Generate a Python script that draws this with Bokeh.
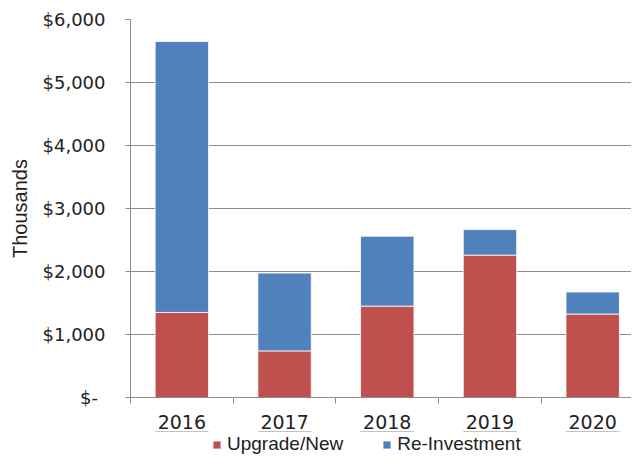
from bokeh.plotting import figure
from bokeh.layouts import column
from bokeh.models import (ColumnDataSource, Range1d, FixedTicker, Legend, LegendItem)
from bokeh.embed import file_html
from bokeh.resources import INLINE

years = ["2016", "2017", "2018", "2019", "2020"]
upgrade_new = [1350, 740, 1450, 2260, 1325]
re_investment = [4300, 1235, 1110, 405, 350]
y_ticks = [0, 1000, 2000, 3000, 4000, 5000, 6000]
y_tick_labels = ["$-\u00a0\u200a", "$1,000", "$2,000", "$3,000", "$4,000", "$5,000", "$6,000"]
series_names = ["Upgrade/New", "Re-Investment"]
colors = ["#C0504D", "#4F81BD"]

NUM_FONT = "DejaVu Sans"
WORD_FONT = "Liberation Sans"
TEXT_COLOR = "#222222"
GRID = "#8c8c8c"

xpos = [i + 0.5 for i in range(len(years))]
source = ColumnDataSource(dict(x=xpos, up=upgrade_new, re=re_investment))

p = figure(frame_width=501, frame_height=378, output_backend="svg", toolbar_location=None,
           x_range=Range1d(0, 4.878), y_range=Range1d(0, 6000),
           min_border_left=130, min_border_right=0, min_border_top=19,
           min_border_bottom=0)
p.outline_line_color = None
p.background_fill_color = "white"
p.border_fill_color = "white"

rs = p.vbar_stack(["up", "re"], x="x", width=0.52, source=source,
                  color=colors, line_color="white", line_width=0.8)

# x axis
xa = p.xaxis[0]
xa.ticker = FixedTicker(ticks=xpos, minor_ticks=list(range(len(years) + 1)))
xa.major_label_overrides = {x: y for x, y in zip(xpos, years)}
xa.major_tick_out = 0
xa.major_tick_in = 0
xa.minor_tick_out = 6
xa.minor_tick_in = 0
xa.minor_tick_line_color = GRID
xa.axis_line_color = GRID
xa.major_label_text_font = NUM_FONT
xa.major_label_text_font_size = "19px"
xa.major_label_text_color = TEXT_COLOR
xa.major_label_standoff = 11

# y axis
ya = p.yaxis[0]
ya.ticker = FixedTicker(ticks=y_ticks, minor_ticks=[])
ya.major_label_overrides = {t: l for t, l in zip(y_ticks, y_tick_labels)}
ya.major_tick_out = 5
ya.major_tick_in = 0
ya.major_tick_line_color = GRID
ya.axis_line_color = GRID
ya.major_label_text_font = NUM_FONT
ya.major_label_text_font_size = "18px"
ya.major_label_text_color = TEXT_COLOR
ya.major_label_standoff = 20
ya.axis_label = "Thousands"
ya.axis_label_text_font = WORD_FONT
ya.axis_label_text_font_size = "20px"
ya.axis_label_text_font_style = "normal"
ya.axis_label_text_color = TEXT_COLOR
ya.axis_label_standoff = 9

p.xgrid.grid_line_color = None
p.ygrid.grid_line_color = GRID
p.ygrid.grid_line_width = 1

# legend strip below the chart (same data, drawn out of view; only the legend shows)
p2 = figure(width=631, height=24, output_backend="svg", toolbar_location=None,
            x_axis_location=None, y_axis_location=None,
            x_range=Range1d(0, 4.878), y_range=Range1d(-2, -1), min_border=0)
p2.outline_line_color = None
p2.grid.visible = False
p2.background_fill_color = "white"
p2.border_fill_color = "white"
lrs = p2.vbar_stack(["up", "re"], x="x", width=0.52, source=source,
                    color=colors, line_color=None)

lg = Legend(items=[LegendItem(label=n, renderers=[r]) for n, r in zip(series_names, lrs)],
            location=(82, 0), orientation="horizontal",
            padding=0, margin=0, spacing=39,
            glyph_width=9, glyph_height=9, label_standoff=6, label_height=18,
            border_line_color=None, background_fill_alpha=0,
            label_text_font=WORD_FONT, label_text_font_size="19px",
            label_text_color=TEXT_COLOR)
p2.add_layout(lg, "center")

layout = column(p, p2, spacing=0)
open("out.html", "w").write(file_html(layout, INLINE))
